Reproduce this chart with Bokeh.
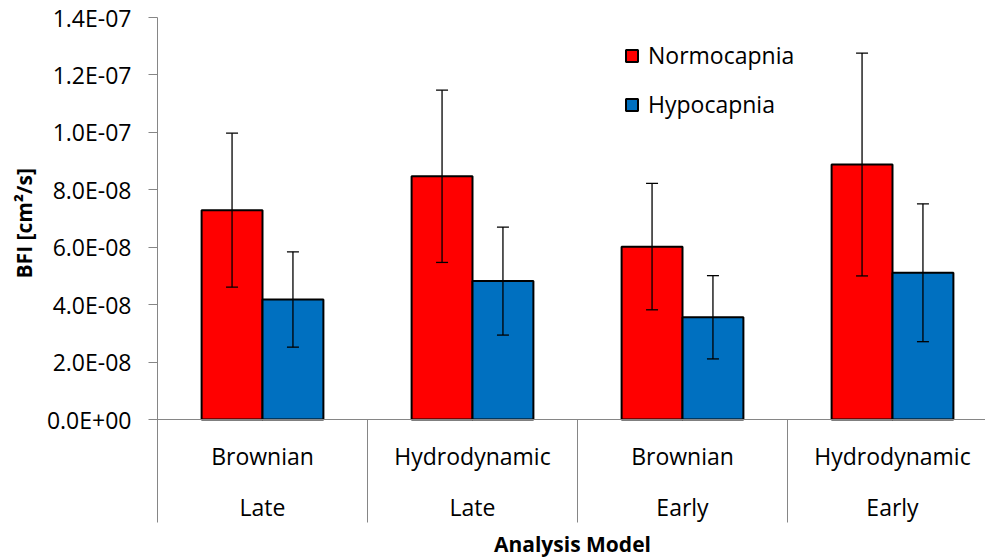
from bokeh.plotting import figure
from bokeh.models import (ColumnDataSource, Whisker, TeeHead, Legend, LegendItem,
                          FixedTicker, Range1d, Span, LinearAxis, Title)
from bokeh.embed import file_html
from bokeh.resources import INLINE
from bokeh.core.properties import value

# ---- data ----
models = ["Brownian", "Hydrodynamic", "Brownian", "Hydrodynamic"]
phases = ["Late", "Late", "Early", "Early"]
normo = [7.29e-8, 8.47e-8, 6.02e-8, 8.88e-8]
normo_err = [2.68e-8, 3.00e-8, 2.20e-8, 3.88e-8]
hypo = [4.18e-8, 4.82e-8, 3.56e-8, 5.11e-8]
hypo_err = [1.66e-8, 1.88e-8, 1.45e-8, 2.40e-8]
y_ticks = [0.0, 2e-8, 4e-8, 6e-8, 8e-8, 1e-7, 1.2e-7, 1.4e-7]
y_tick_labels = ["0.0E+00", "2.0E-08", "4.0E-08", "6.0E-08", "8.0E-08",
                 "1.0E-07", "1.2E-07", "1.4E-07"]
series_names = ["Normocapnia", "Hypocapnia"]
series_colors = ["#FF0000", "#0070C0"]
x_title = "Analysis Model"
y_title = "BFI [cm²/s]"

FONT = "Open Sans"
FS = "23px"
AXIS_GREY = "#868686"

n = len(models)
centers = [i + 0.5 for i in range(n)]
bw = 0.29
off = bw / 2

FRAME_W, FRAME_H = 828, 542
PX_PER_X = 210                       # pixels per category
PX_PER_UNIT = 402 / 1.4e-7           # pixel scale of the y axis
y_top = 1.4e-7
y_bottom = y_top - FRAME_H / PX_PER_UNIT
sep_bottom = -103 / PX_PER_UNIT      # category separators end here

p = figure(frame_width=FRAME_W, frame_height=FRAME_H,
           output_backend="svg", toolbar_location=None,
           x_range=Range1d(0, FRAME_W / PX_PER_X), y_range=Range1d(y_bottom, y_top),
           min_border_left=157, min_border_right=0, min_border_top=17,
           min_border_bottom=0, x_axis_location=None, y_axis_location=None)
p.outline_line_color = None
p.grid.visible = False
p.background_fill_color = "white"
p.border_fill_color = "white"

# y axis
yax = LinearAxis(ticker=FixedTicker(ticks=y_ticks), bounds=(sep_bottom, y_top),
                 major_label_overrides={t: l for t, l in zip(y_ticks, y_tick_labels)})
yax.axis_line_color = AXIS_GREY
yax.major_tick_line_color = AXIS_GREY
yax.minor_tick_line_color = None
yax.major_tick_out = 9
yax.major_tick_in = 0
yax.major_label_standoff = 17
yax.major_label_text_font = FONT
yax.major_label_text_font_size = FS
yax.major_label_text_color = "black"
p.add_layout(yax, "left")

# y axis title, starting where the reference's does (offset from frame bottom)
p.add_layout(Title(text=y_title, align="left", offset=281, standoff=12,
                   text_font=FONT, text_font_size="21px", text_font_style="bold",
                   text_color="black"), "left")

# category axis line and separators
p.add_layout(Span(location=0, dimension="width", line_color=AXIS_GREY, line_width=1))
p.segment(x0=list(range(1, n)), y0=[0] * (n - 1), x1=list(range(1, n)),
          y1=[sep_bottom] * (n - 1), line_color=AXIS_GREY, line_width=1)

# category labels
p.text(x=centers, y=[0] * n, text=models, text_align="center", text_baseline="middle",
       y_offset=36, text_font=value(FONT), text_font_size=FS, text_color="black")
p.text(x=centers, y=[0] * n, text=phases, text_align="center", text_baseline="middle",
       y_offset=87, text_font=value(FONT), text_font_size=FS, text_color="black")
# x axis title
p.text(x=[1.976], y=[0], text=[x_title], text_align="center", text_baseline="middle",
       y_offset=124, text_font=value(FONT), text_font_size="21px",
       text_font_style="bold", text_color="black")

# bars
renderers = []
for k, (vals, errs) in enumerate([(normo, normo_err), (hypo, hypo_err)]):
    xs = [c + (-off if k == 0 else off) for c in centers]
    src = ColumnDataSource(dict(x=xs, top=vals,
                                upper=[v + e for v, e in zip(vals, errs)],
                                lower=[v - e for v, e in zip(vals, errs)]))
    r = p.vbar(x="x", top="top", bottom=0, width=bw, source=src,
               fill_color=series_colors[k], line_color="black", line_width=2)
    renderers.append(r)
    w = Whisker(base="x", upper="upper", lower="lower", source=src, level="overlay",
                line_color="black", line_width=1.3,
                upper_head=TeeHead(size=12, line_color="black", line_width=1.3),
                lower_head=TeeHead(size=12, line_color="black", line_width=1.3))
    p.add_layout(w)

legend = Legend(items=[LegendItem(label=nm, renderers=[r]) for nm, r in zip(series_names, renderers)],
                location=(467, 439), padding=0, margin=0, spacing=17,
                glyph_width=15, glyph_height=15, label_standoff=9,
                label_text_font=FONT, label_text_font_size=FS, label_text_color="black",
                border_line_color=None, background_fill_alpha=0)
p.add_layout(legend, "center")

open("out.html", "w").write(file_html(p, INLINE))
